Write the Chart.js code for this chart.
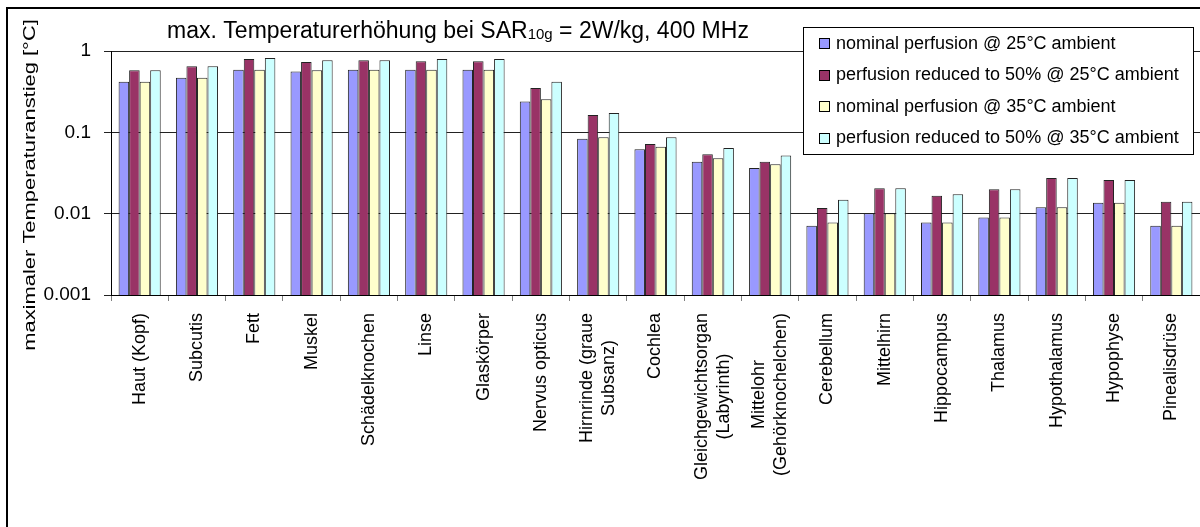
<!DOCTYPE html>
<html>
<head>
<meta charset="utf-8">
<script src="https://cdn.jsdelivr.net/npm/chart.js@4"></script>
<style>
html,body{margin:0;padding:0;background:#fff;}
canvas{display:block;}
</style>
</head>
<body>
<canvas id="c" width="1200" height="527"></canvas>
<script>
const categories = ['Haut (Kopf)', 'Subcutis', 'Fett', 'Muskel', 'Schädelknochen', 'Linse', 'Glaskörper', 'Nervus opticus', ['Hirnrinde (graue', 'Subsanz)'], 'Cochlea', ['Gleichgewichtsorgan', '(Labyrinth)'], ['Mittelohr', '(Gehörknochelchen)'], 'Cerebellum', 'Mittelhirn', 'Hippocampus', 'Thalamus', 'Hypothalamus', 'Hypophyse', 'Pinealisdrüse'];
const seriesNames = ['nominal perfusion @ 25°C ambient', 'perfusion reduced to 50% @ 25°C ambient', 'nominal perfusion @ 35°C ambient', 'perfusion reduced to 50% @ 35°C ambient'];
const nominal25 = [0.42, 0.47, 0.59, 0.56, 0.59, 0.59, 0.59, 0.24, 0.0835, 0.062, 0.0435, 0.0364, 0.0071, 0.0101, 0.0078, 0.0090, 0.012, 0.0136, 0.0071];
const reduced25 = [0.58, 0.65, 0.80, 0.73, 0.77, 0.75, 0.75, 0.35, 0.163, 0.072, 0.0536, 0.0435, 0.0117, 0.0205, 0.0166, 0.0199, 0.0274, 0.0259, 0.014];
const nominal35 = [0.42, 0.47, 0.59, 0.58, 0.59, 0.59, 0.59, 0.255, 0.087, 0.0665, 0.0479, 0.0404, 0.0078, 0.0101, 0.0078, 0.0090, 0.012, 0.0136, 0.0071];
const reduced35 = [0.58, 0.65, 0.82, 0.77, 0.77, 0.80, 0.80, 0.42, 0.173, 0.087, 0.064, 0.052, 0.0148, 0.0205, 0.0173, 0.0199, 0.0274, 0.0259, 0.014];
const yTicks = [0.001, 0.01, 0.1, 1];
const titleMain = 'max. Temperaturerhöhung bei SAR';
const titleSub = '10g';
const titleEnd = ' = 2W/kg, 400 MHz';
const yTitle = 'maximaler Temperaturanstieg [°C]';

const colors = ['#9999FF', '#993366', '#FFFFCC', '#CCFFFF'];
const FONT = "'Liberation Sans', Arial, sans-serif";

const decor = {
  id: 'decor',
  afterDraw(chart) {
    const ctx = chart.ctx;
    const xs = chart.scales.x;
    ctx.save();
    ctx.fillStyle = '#000';
    // title
    ctx.textBaseline = 'alphabetic';
    ctx.textAlign = 'left';
    ctx.font = '23px ' + FONT;
    const w1 = ctx.measureText(titleMain).width;
    const w3 = ctx.measureText(titleEnd).width;
    ctx.font = '15px ' + FONT;
    const w2 = ctx.measureText(titleSub).width;
    let tx = 458 - (w1 + w2 + w3) / 2;
    ctx.font = '23px ' + FONT;
    ctx.fillText(titleMain, tx, 38);
    ctx.font = '15px ' + FONT;
    ctx.fillText(titleSub, tx + w1, 39);
    ctx.font = '23px ' + FONT;
    ctx.fillText(titleEnd, tx + w1 + w2, 38);

    // y title
    ctx.save();
    ctx.translate(35, 185);
    ctx.rotate(-Math.PI / 2);
    ctx.scale(1.37, 1);
    ctx.font = '16px ' + FONT;
    ctx.textAlign = 'center';
    ctx.fillText(yTitle, 0, 0);
    ctx.restore();

    // x labels
    ctx.font = '18px ' + FONT;
    ctx.textBaseline = 'middle';
    ctx.textAlign = 'center';
    categories.forEach((lab, i) => {
      const lines = Array.isArray(lab) ? lab : [lab];
      const cx = xs.getPixelForValue(i);
      let W = 0;
      lines.forEach(l => { W = Math.max(W, ctx.measureText(l).width); });
      const cy = 313 + W / 2;
      const lh = 22;
      lines.forEach((l, k) => {
        const px = cx + (k - (lines.length - 1) / 2) * lh;
        ctx.save();
        ctx.translate(px, cy);
        ctx.rotate(-Math.PI / 2);
        ctx.fillText(l, 0, 0);
        ctx.restore();
      });
    });

    // legend
    ctx.fillStyle = '#fff';
    ctx.fillRect(803.5, 27.5, 390, 127);
    ctx.strokeStyle = '#000';
    ctx.lineWidth = 1;
    ctx.strokeRect(803.5, 27.5, 390, 127);
    ctx.font = '18px ' + FONT;
    ctx.textAlign = 'left';
    ctx.textBaseline = 'middle';
    chart.data.datasets.forEach((ds, k) => {
      const cy = 43 + k * 31.5;
      ctx.fillStyle = ds.backgroundColor;
      ctx.fillRect(819.5, Math.round(cy - 5) + 0.5, 10, 10);
      ctx.strokeStyle = '#000';
      ctx.strokeRect(819.5, Math.round(cy - 5) + 0.5, 10, 10);
      ctx.fillStyle = '#000';
      ctx.fillText(ds.label, 836, cy + 1);
    });

    // outer border
    ctx.strokeStyle = '#000';
    ctx.lineWidth = 2;
    ctx.strokeRect(7, 8, 1250, 600);
    ctx.restore();
  }
};

const datasets = [nominal25, reduced25, nominal35, reduced35].map((d, k) => ({
  label: seriesNames[k],
  data: d,
  backgroundColor: colors[k],
  borderColor: '#222',
  borderWidth: 1,
  borderSkipped: 'bottom',
  categoryPercentage: 0.735,
  barPercentage: 1.0
}));

new Chart(document.getElementById('c'), {
  type: 'bar',
  data: { labels: categories, datasets },
  options: {
    responsive: false,
    animation: false,
    devicePixelRatio: 1,
    layout: { padding: { top: 51, right: 0, left: 0, bottom: 0 } },
    plugins: { legend: { display: false }, title: { display: false }, tooltip: { enabled: false } },
    scales: {
      x: {
        type: 'category',
        offset: true,
        grid: { offset: true, drawOnChartArea: false, drawTicks: true, tickLength: 6, tickColor: '#808080', tickWidth: 1 },
        border: { display: true, color: '#000', width: 1 },
        ticks: { display: false },
        afterFit(s) { s.height = 232; }
      },
      y: {
        type: 'logarithmic',
        min: 0.001,
        max: 1,
        afterBuildTicks(s) { s.ticks = yTicks.map(v => ({ value: v })); },
        ticks: {
          font: { family: FONT, size: 19 },
          color: '#000',
          padding: 13,
          callback: v => String(v)
        },
        grid: { color: '#222', lineWidth: 1, drawTicks: true, tickLength: 7, tickColor: '#222' },
        border: { display: true, color: '#000', width: 1 },
        afterFit(s) { s.width = 111; }
      }
    }
  },
  plugins: [decor]
});
</script>
</body>
</html>
